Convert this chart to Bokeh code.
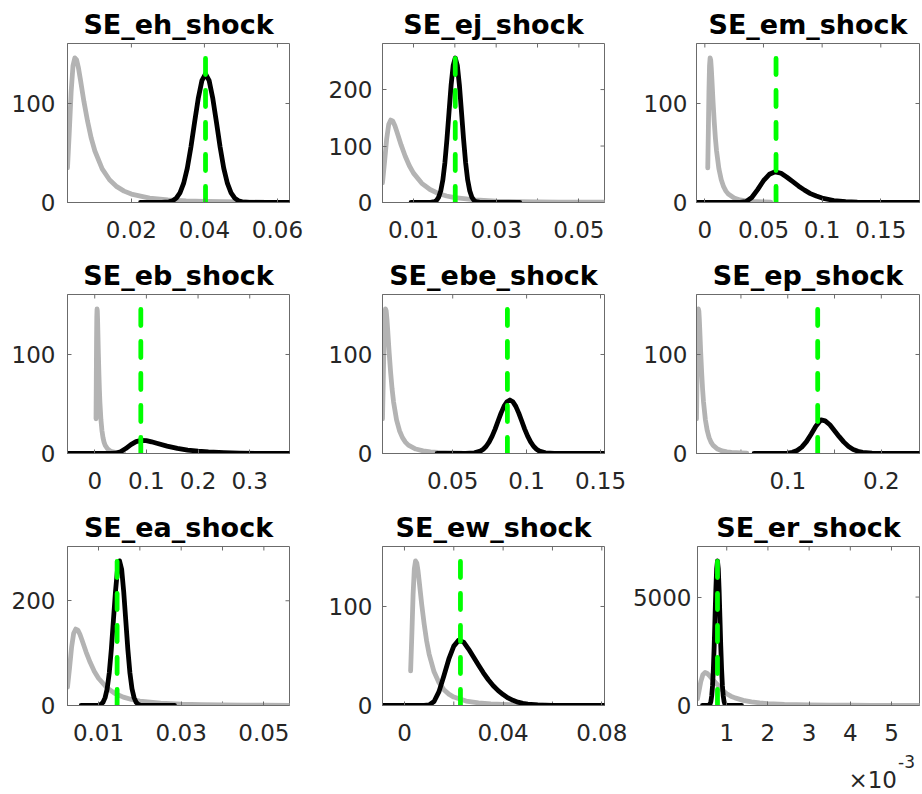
from bokeh.plotting import figure
from bokeh.models import Range1d, FixedTicker, LinearAxis, Div
from bokeh.layouts import column, row
from bokeh.embed import file_html
from bokeh.resources import INLINE

# ---------------- data ----------------
names = ["SE_eh_shock", "SE_ej_shock", "SE_em_shock",
         "SE_eb_shock", "SE_ebe_shock", "SE_ep_shock",
         "SE_ea_shock", "SE_ew_shock", "SE_er_shock"]

# common prior density (panels 1-8)
prior_x = [0.0025, 0.0030, 0.0035, 0.0040, 0.0045, 0.0050, 0.0055, 0.0060, 0.0070, 0.0080,
           0.0090, 0.0100, 0.0120, 0.0140, 0.0160, 0.0180, 0.0200, 0.0250, 0.0300, 0.0350,
           0.0400, 0.0450, 0.0500, 0.0562]
prior_y = [35, 72, 112, 138, 146, 144, 136, 125, 102, 82,
           65, 52, 34, 23, 16, 11.5, 8.5, 4.5, 2.6, 1.6,
           1.1, 0.8, 0.6, 0.4]

# prior density of SE_er_shock
er_prior_x = [0.00029, 0.00033, 0.00037, 0.00042, 0.000475, 0.00052, 0.0006, 0.0007, 0.0008, 0.0009,
              0.0010, 0.0011, 0.0012, 0.0014, 0.0016, 0.0018, 0.0020, 0.0024, 0.0030, 0.0035,
              0.0040, 0.0045, 0.0050, 0.00568]
er_prior_y = [306, 700, 1100, 1420, 1523, 1490, 1330, 1110, 900, 700,
              540, 430, 350, 235, 165, 120, 90, 52, 30, 20,
              14, 10, 7.5, 5]

# posterior densities
eh_x = [0.0225, 0.0283, 0.0303, 0.0313, 0.0323, 0.0333, 0.0343, 0.0353, 0.0363, 0.0373, 0.0383,
        0.0393, 0.0403, 0.0413, 0.0423, 0.0433, 0.0443, 0.0453, 0.0463, 0.0473, 0.0483, 0.0493,
        0.0503, 0.0523, 0.0633]
eh_y = [0, 0.06, 0.65, 1.8, 4.4, 9.7, 19.2, 34.5, 56, 81, 105,
        123, 130, 123, 105, 81, 56, 34.5, 19.2, 9.7, 4.4, 1.8,
        0.65, 0.06, 0]

ej_x = [0.0094, 0.0141, 0.0151, 0.0156, 0.0161, 0.0166, 0.0171, 0.0176, 0.0181, 0.0186, 0.0191,
        0.0196, 0.0201, 0.0206, 0.0211, 0.0216, 0.0221, 0.0226, 0.0231, 0.0236, 0.0241, 0.0246,
        0.0251, 0.0261, 0.0357]
ej_y = [0, 0.15, 1.5, 4, 9.6, 20.7, 40, 71, 113, 161, 208,
        243, 256, 243, 208, 161, 113, 71, 40, 20.7, 9.6, 4,
        1.5, 0.15, 0]

em_x = [-0.0071, 0.030, 0.035, 0.040, 0.045, 0.050, 0.055, 0.060, 0.065, 0.070, 0.075,
        0.080, 0.085, 0.090, 0.095, 0.100, 0.110, 0.120, 0.130, 0.150, 0.183]
em_y = [0, 0, 0.8, 5, 13, 22, 28.5, 31, 29.5, 25.5, 21,
        16.5, 12.5, 9, 6.5, 4.5, 2, 0.8, 0.3, 0, 0]

eb_x = [-0.0527, 0.030, 0.040, 0.050, 0.060, 0.070, 0.080, 0.090, 0.100, 0.110,
        0.120, 0.140, 0.160, 0.180, 0.200, 0.220, 0.250, 0.280, 0.320, 0.377]
eb_y = [0, 0, 0.3, 1.8, 5, 9, 12, 13.3, 13, 11.8,
        10.3, 7.5, 5.2, 3.5, 2.3, 1.5, 0.8, 0.4, 0.15, 0.05]

ebe_x = [0.0394, 0.0587, 0.0647, 0.0687, 0.0707, 0.0727, 0.0747, 0.0767, 0.0787, 0.0807,
         0.0827, 0.0847, 0.0867, 0.0887, 0.0907, 0.0927, 0.0947, 0.0967, 0.0987, 0.1007,
         0.1027, 0.1047, 0.1067, 0.1087, 0.1127, 0.1187, 0.1527]
ebe_y = [0, 0.05, 0.6, 2.4, 4.3, 7.3, 11.7, 17.5, 24.7, 32.8,
         40.8, 47.6, 52.3, 54, 52.3, 47.6, 40.8, 32.8, 24.7, 17.5,
         11.7, 7.3, 4.3, 2.4, 0.6, 0.05, 0]

ep_x = [0.064, 0.095, 0.100, 0.105, 0.110, 0.115, 0.120, 0.125, 0.130, 0.1356, 0.140,
        0.145, 0.150, 0.155, 0.160, 0.165, 0.170, 0.175, 0.180, 0.190, 0.2408]
ep_y = [0, 0, 0.4, 1.2, 3, 6.5, 12, 19.5, 27.5, 34, 33,
        29, 23, 17, 11.5, 7, 4, 2.2, 1.1, 0.3, 0]

ea_x = [0.0058, 0.0091, 0.0101, 0.0106, 0.0111, 0.0116, 0.0121, 0.0126, 0.0131, 0.0136, 0.0141,
        0.0146, 0.0151, 0.0156, 0.0161, 0.0166, 0.0171, 0.0176, 0.0181, 0.0186, 0.0191, 0.0196,
        0.0201, 0.0211, 0.0284]
ea_y = [0, 0.05, 0.7, 2.2, 6.1, 15, 32, 62, 107, 162, 217,
        260, 276, 260, 217, 162, 107, 62, 32, 15, 6.1, 2.2,
        0.7, 0.05, 0]

ew_x = [-0.0089, 0.008, 0.010, 0.012, 0.014, 0.016, 0.018, 0.020, 0.022, 0.024, 0.026,
        0.028, 0.030, 0.032, 0.034, 0.036, 0.038, 0.040, 0.042, 0.044, 0.046, 0.048,
        0.050, 0.054, 0.060, 0.0811]
ew_y = [0, 0, 0.5, 4, 14, 30, 47, 60, 66, 64, 57,
        49, 41, 33, 26, 20, 15, 11, 7.7, 5.2, 3.4, 2.1,
        1.3, 0.5, 0.1, 0]

er_x = [0.00041, 0.000525, 0.000575, 0.000595, 0.000615, 0.000635, 0.000655, 0.000675, 0.000695,
        0.000715, 0.000735, 0.000755, 0.000775, 0.000795, 0.000815, 0.000835, 0.000855, 0.000875,
        0.000895, 0.000915, 0.000935, 0.000955, 0.000975, 0.001025, 0.00136]
er_y = [0, 1, 26, 74, 190, 438, 902, 1662, 2739,
        4043, 5338, 6305, 6665, 6305, 5338, 4043, 2739, 1662,
        902, 438, 190, 74, 26, 1, 0]

# posterior modes (green dashed lines)
modes = [0.0403, 0.0201, 0.0607, 0.0892, 0.087, 0.132, 0.0145, 0.0227, 0.000775]

# x ticks and their labels ("" = tick without label)
xticks = [[0.02, 0.04, 0.06],
          [0.01, 0.02, 0.03, 0.04, 0.05],
          [0, 0.05, 0.1, 0.15],
          [0, 0.1, 0.2, 0.3],
          [0.05, 0.1, 0.15],
          [0.05, 0.1, 0.15, 0.2],
          [0.01, 0.02, 0.03, 0.04, 0.05],
          [0, 0.02, 0.04, 0.06, 0.08],
          [0.001, 0.002, 0.003, 0.004, 0.005]]
xlabels = [["0.02", "0.04", "0.06"],
           ["0.01", "", "0.03", "", "0.05"],
           ["0", "0.05", "0.1", "0.15"],
           ["0", "0.1", "0.2", "0.3"],
           ["0.05", "0.1", "0.15"],
           ["", "0.1", "", "0.2"],
           ["0.01", "", "0.03", "", "0.05"],
           ["0", "", "0.04", "", "0.08"],
           ["1", "2", "3", "4", "5"]]
# y ticks
yticks = [[0, 100], [0, 100, 200], [0, 100],
          [0, 100], [0, 100], [0, 100],
          [0, 200], [0, 100], [0, 5000]]
exponent_base = "×10"
exponent_power = "-3"

# ---------------- styling ----------------
priors = [(prior_x, prior_y)] * 8 + [(er_prior_x, er_prior_y)]
posts = [(eh_x, eh_y), (ej_x, ej_y), (em_x, em_y),
         (eb_x, eb_y), (ebe_x, ebe_y), (ep_x, ep_y),
         (ea_x, ea_y), (ew_x, ew_y), (er_x, er_y)]

TXT = "#262626"
BOX = "#6b6b6b"
FONT = "DejaVu Sans"
LW = 4.8
TICK = 4  # px

# page has no margin (bokeh template): figures tile the 922x794 window
# (fig width, left border, right border) per column; (fig height, top, bottom) per row
COLS = [(320, 67, 31), (309, 62, 25), (293, 67, 3)]
ROWS = [(251, 43, 49), (251, 43, 49), (292, 44, 89)]
YSTAND = [12, 10, 9, 12, 10, 9, 12, 10, 6]
EXP_H = 42  # strip below the last panel holding the x10^-3 factor


def style(ax, standoff):
    ax.axis_line_color = BOX
    ax.axis_line_width = 1
    ax.major_tick_line_color = BOX
    ax.major_tick_in = TICK
    ax.major_tick_out = 0
    ax.minor_tick_line_color = None
    ax.major_label_text_font = FONT
    ax.major_label_text_color = TXT
    ax.major_label_text_font_size = "23px"
    ax.major_label_standoff = standoff


figs = []
for i in range(9):
    r, c = divmod(i, 3)
    fw, bl, br = COLS[c]
    fh, bt, bb = ROWS[r]
    if i == 8:
        fh -= EXP_H
        bb -= EXP_H
    px, py = priors[i]
    qx, qy = posts[i]
    top = max(max(py), max(qy))
    x0 = min(px[0], qx[0])
    x1 = max(px[-1], qx[-1])
    y1 = 1.1 * top
    p = figure(width=fw, height=fh, output_backend="svg", toolbar_location=None,
               x_range=Range1d(x0, x1), y_range=Range1d(0, y1),
               min_border_left=bl, min_border_right=br,
               min_border_top=bt, min_border_bottom=bb,
               x_axis_type=None, y_axis_type=None)
    p.background_fill_color = "white"
    p.border_fill_color = "white"
    p.outline_line_color = BOX
    p.outline_line_width = 1
    p.grid.visible = False

    lab_ticks = [t for t, l in zip(xticks[i], xlabels[i]) if l]
    xover = {t: l for t, l in zip(xticks[i], xlabels[i]) if l}
    bottom = LinearAxis(ticker=FixedTicker(ticks=lab_ticks), major_label_overrides=xover)
    style(bottom, 18)
    p.add_layout(bottom, "below")
    left = LinearAxis(ticker=FixedTicker(ticks=yticks[i]))
    style(left, YSTAND[i])
    p.add_layout(left, "left")

    # mirrored inward ticks (box on), derived from the tick lists
    frame_w = fw - bl - br
    frame_h = fh - bt - bb
    dx = TICK * (x1 - x0) / frame_w
    dy = TICK * y1 / frame_h
    xt_all = xticks[i]
    unl = [t for t, l in zip(xticks[i], xlabels[i]) if not l]
    p.segment(x0=xt_all, y0=[y1] * len(xt_all), x1=xt_all, y1=[y1 - dy] * len(xt_all),
              line_color=BOX, line_width=1)
    if unl:
        p.segment(x0=unl, y0=[0] * len(unl), x1=unl, y1=[dy] * len(unl),
                  line_color=BOX, line_width=1)
    yt = yticks[i]
    p.segment(x0=[x1] * len(yt), y0=yt, x1=[x1 - dx] * len(yt), y1=yt,
              line_color=BOX, line_width=1)

    p.title.text = names[i]
    p.title.text_font = FONT
    p.title.text_font_style = "bold"
    p.title.text_font_size = "27px"
    p.title.text_color = "black"
    p.title.align = "center"
    p.title.standoff = 7

    p.line(px, py, line_color="#b3b3b3", line_width=LW, line_join="round", line_cap="round")
    p.line(qx, qy, line_color="black", line_width=LW, line_join="round", line_cap="round")
    p.line([modes[i], modes[i]], [0, top], line_color="#00ff00", line_width=LW,
           line_dash="16 16", line_cap="round")
    figs.append(p)

exp_html = (
    '<div style="position:relative;width:%dpx;height:%dpx;font-family:\'DejaVu Sans\';'
    'color:%s;overflow:visible;">'
    '<span style="position:absolute;right:25px;top:15px;font-size:23px;line-height:normal;">%s</span>'
    '<span style="position:absolute;right:7px;top:0px;font-size:17px;line-height:normal;">%s</span>'
    '</div>' % (COLS[2][0], EXP_H, TXT, exponent_base, exponent_power)
)
exp_div = Div(text=exp_html, width=COLS[2][0], height=EXP_H, margin=0)

layout = column(row(*figs[0:3]), row(*figs[3:6]),
                row(figs[6], figs[7], column(figs[8], exp_div)))
open("out.html", "w").write(file_html(layout, INLINE))
